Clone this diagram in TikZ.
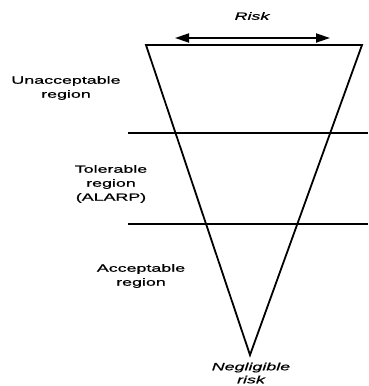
\documentclass[tikz,border=0pt]{standalone}
\usepackage{fontspec}
\setmainfont{Liberation Sans}
\newfontfamily\widefont[FakeStretch=1.7,FakeBold=0.8]{Liberation Sans}
\usetikzlibrary{arrows.meta}
\begin{document}
\begin{tikzpicture}[x=1pt,y=-1pt,
  lbl/.style={align=center,inner sep=0pt,font=\widefont\fontsize{10.5}{14}\selectfont},
  ilbl/.style={lbl,font=\widefont\itshape\fontsize{10.5}{13}\selectfont},
  thick line/.style={line width=1.8pt}]
\useasboundingbox (0,0) rectangle (368,386);
% triangle
\coordinate (tl) at (146,45);
\coordinate (tr) at (362,45);
\coordinate (ap) at (250,355);
\draw[thick line, line join=miter] (tl) -- (tr) -- (ap) -- cycle;
% horizontal lines
\coordinate (h1a) at (128,133);
\coordinate (h1b) at (368,133);
\coordinate (h2a) at (128,224);
\coordinate (h2b) at (368,224);
\draw[thick line] (h1a) -- (h1b);
\draw[thick line] (h2a) -- (h2b);
% risk arrow
\coordinate (ra) at (175,38);
\coordinate (rb) at (330,38);
\draw[thick line, {Triangle[length=14pt,width=9pt]}-{Triangle[length=14pt,width=9pt]}] (ra) -- (rb);
% labels
\node[ilbl] (risk) at (252,16) {Risk};
\node[lbl] (unacc) at (66,88) {Unacceptable\\region};
\node[lbl] (tol) at (111,184) {Tolerable\\region\\(ALARP)};
\node[lbl] (acc) at (141,276) {Acceptable\\region};
\node[ilbl] (neg) at (251,373) {Negligible\\risk};
\end{tikzpicture}
\end{document}
